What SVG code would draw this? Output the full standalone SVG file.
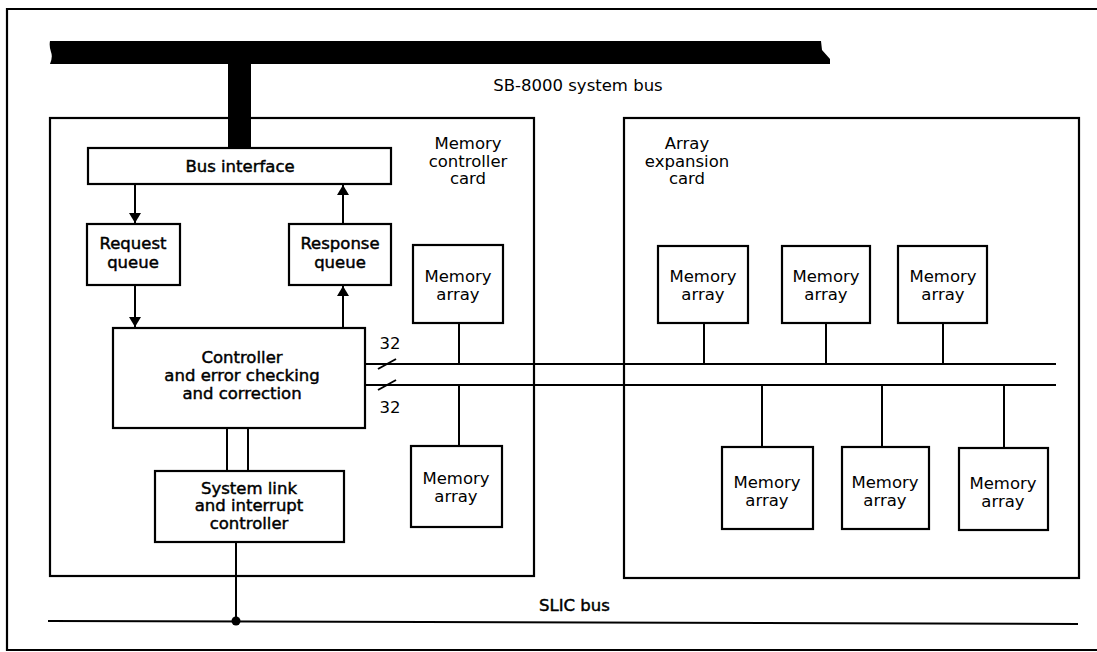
<svg xmlns="http://www.w3.org/2000/svg" width="1097" height="652" viewBox="0 0 1097 652">
<defs>
<style>
.box{fill:#fff;stroke:#000;stroke-width:2.2}
.card{fill:none;stroke:#000;stroke-width:2.2}
.ln{fill:none;stroke:#000;stroke-width:2}
text{font-family:"DejaVu Sans","Liberation Sans",sans-serif;font-size:16.5px;fill:#000;text-anchor:middle}
.b{stroke:#000;stroke-width:0.45}
.l{text-anchor:start}
</style>
<marker id="arr" viewBox="0 0 10 14" refX="10" refY="7" markerWidth="10" markerHeight="14" markerUnits="userSpaceOnUse" orient="auto">
<path d="M0,1 L10,7 L0,13 Z" fill="#000"/>
</marker>
</defs>
<rect width="1097" height="652" fill="#fff"/>
<path class="card" d="M1097,9 L7,9 L7,650 L1097,650"/>

<g id="system-bus">
<path d="M50,41 L821,41 L822,50 L830,59 L830,64 L50,64 Q53,57 51,52 Q49,46 50,41 Z" fill="#000"/>
<rect x="228" y="62" width="23" height="87" fill="#000"/>
<text x="578" y="91">SB-8000 system bus</text>
</g>

<g id="memory-controller-card">
<rect class="card" x="50" y="118" width="484" height="458"/>
<text x="468" y="149">Memory</text>
<text x="468" y="167">controller</text>
<text x="468" y="184">card</text>
</g>

<g id="array-expansion-card">
<rect class="card" x="624" y="118" width="455" height="460"/>
<text x="687" y="149">Array</text>
<text x="687" y="167">expansion</text>
<text x="687" y="184">card</text>
</g>

<g id="bus-interface">
<rect class="box" x="88" y="148" width="303" height="36"/>
<text class="b" x="240" y="172">Bus interface</text>
</g>

<g id="request-queue">
<rect class="box" x="87" y="224" width="93" height="61"/>
<text class="b" x="133" y="249">Request</text>
<text class="b" x="133" y="268">queue</text>
</g>

<g id="response-queue">
<rect class="box" x="289" y="224" width="102" height="61"/>
<text class="b" x="340" y="249">Response</text>
<text class="b" x="340" y="268">queue</text>
</g>

<g id="controller">
<rect class="box" x="113" y="328" width="252" height="100"/>
<text class="b" x="242" y="363">Controller</text>
<text class="b" x="242" y="381">and error checking</text>
<text class="b" x="242" y="399">and correction</text>
</g>

<g id="system-link">
<rect class="box" x="155" y="471" width="189" height="71"/>
<text class="b" x="249" y="494">System link</text>
<text class="b" x="249" y="511">and interrupt</text>
<text class="b" x="249" y="529">controller</text>
</g>

<g id="mc-memory-array-1">
<rect class="box" x="413" y="245" width="90" height="78"/>
<text x="458" y="282">Memory</text>
<text x="458" y="300">array</text>
</g>

<g id="mc-memory-array-2">
<rect class="box" x="411" y="446" width="91" height="81"/>
<text x="456" y="484">Memory</text>
<text x="456" y="502">array</text>
</g>

<g id="ae-memory-array-1">
<rect class="box" x="658" y="246" width="90" height="77"/>
<text x="703" y="282">Memory</text>
<text x="703" y="300">array</text>
</g>
<g id="ae-memory-array-2">
<rect class="box" x="782" y="246" width="88" height="77"/>
<text x="826" y="282">Memory</text>
<text x="826" y="300">array</text>
</g>
<g id="ae-memory-array-3">
<rect class="box" x="898" y="246" width="89" height="77"/>
<text x="943" y="282">Memory</text>
<text x="943" y="300">array</text>
</g>
<g id="ae-memory-array-4">
<rect class="box" x="722" y="447" width="91" height="82"/>
<text x="767" y="488">Memory</text>
<text x="767" y="506">array</text>
</g>
<g id="ae-memory-array-5">
<rect class="box" x="842" y="447" width="87" height="82"/>
<text x="885" y="488">Memory</text>
<text x="885" y="506">array</text>
</g>
<g id="ae-memory-array-6">
<rect class="box" x="959" y="448" width="89" height="82"/>
<text x="1003" y="489">Memory</text>
<text x="1003" y="507">array</text>
</g>

<g id="slic-bus">
<path class="ln" d="M48,621 L1078,624" stroke-width="2.5"/>
<text class="b l" x="539" y="611">SLIC bus</text>
</g>

<g id="connectors">
<path class="ln" d="M135,185 L135,223" marker-end="url(#arr)"/>
<path class="ln" d="M135,286 L135,327" marker-end="url(#arr)"/>
<path class="ln" d="M343,327 L343,286" marker-end="url(#arr)"/>
<path class="ln" d="M343,223 L343,185" marker-end="url(#arr)"/>
<path class="ln" d="M365,364 L1056,364"/>
<path class="ln" d="M365,385 L1056,385"/>
<path class="ln" d="M378,369 L396,359"/>
<path class="ln" d="M378,390 L396,380"/>
<text x="390" y="349">32</text>
<text x="390" y="413">32</text>
<path class="ln" d="M459,323 L459,364 M459,385 L459,446"/>
<path class="ln" d="M704,323 L704,364 M826,323 L826,364 M943,323 L943,364"/>
<path class="ln" d="M762,385 L762,447 M882,385 L882,447 M1004,385 L1004,448"/>
<path class="ln" d="M227,428 L227,471 M248,428 L248,471"/>
<path class="ln" d="M236,542 L236,621"/>
<circle cx="236" cy="621" r="4.5" fill="#000"/>
</g>
</svg>
